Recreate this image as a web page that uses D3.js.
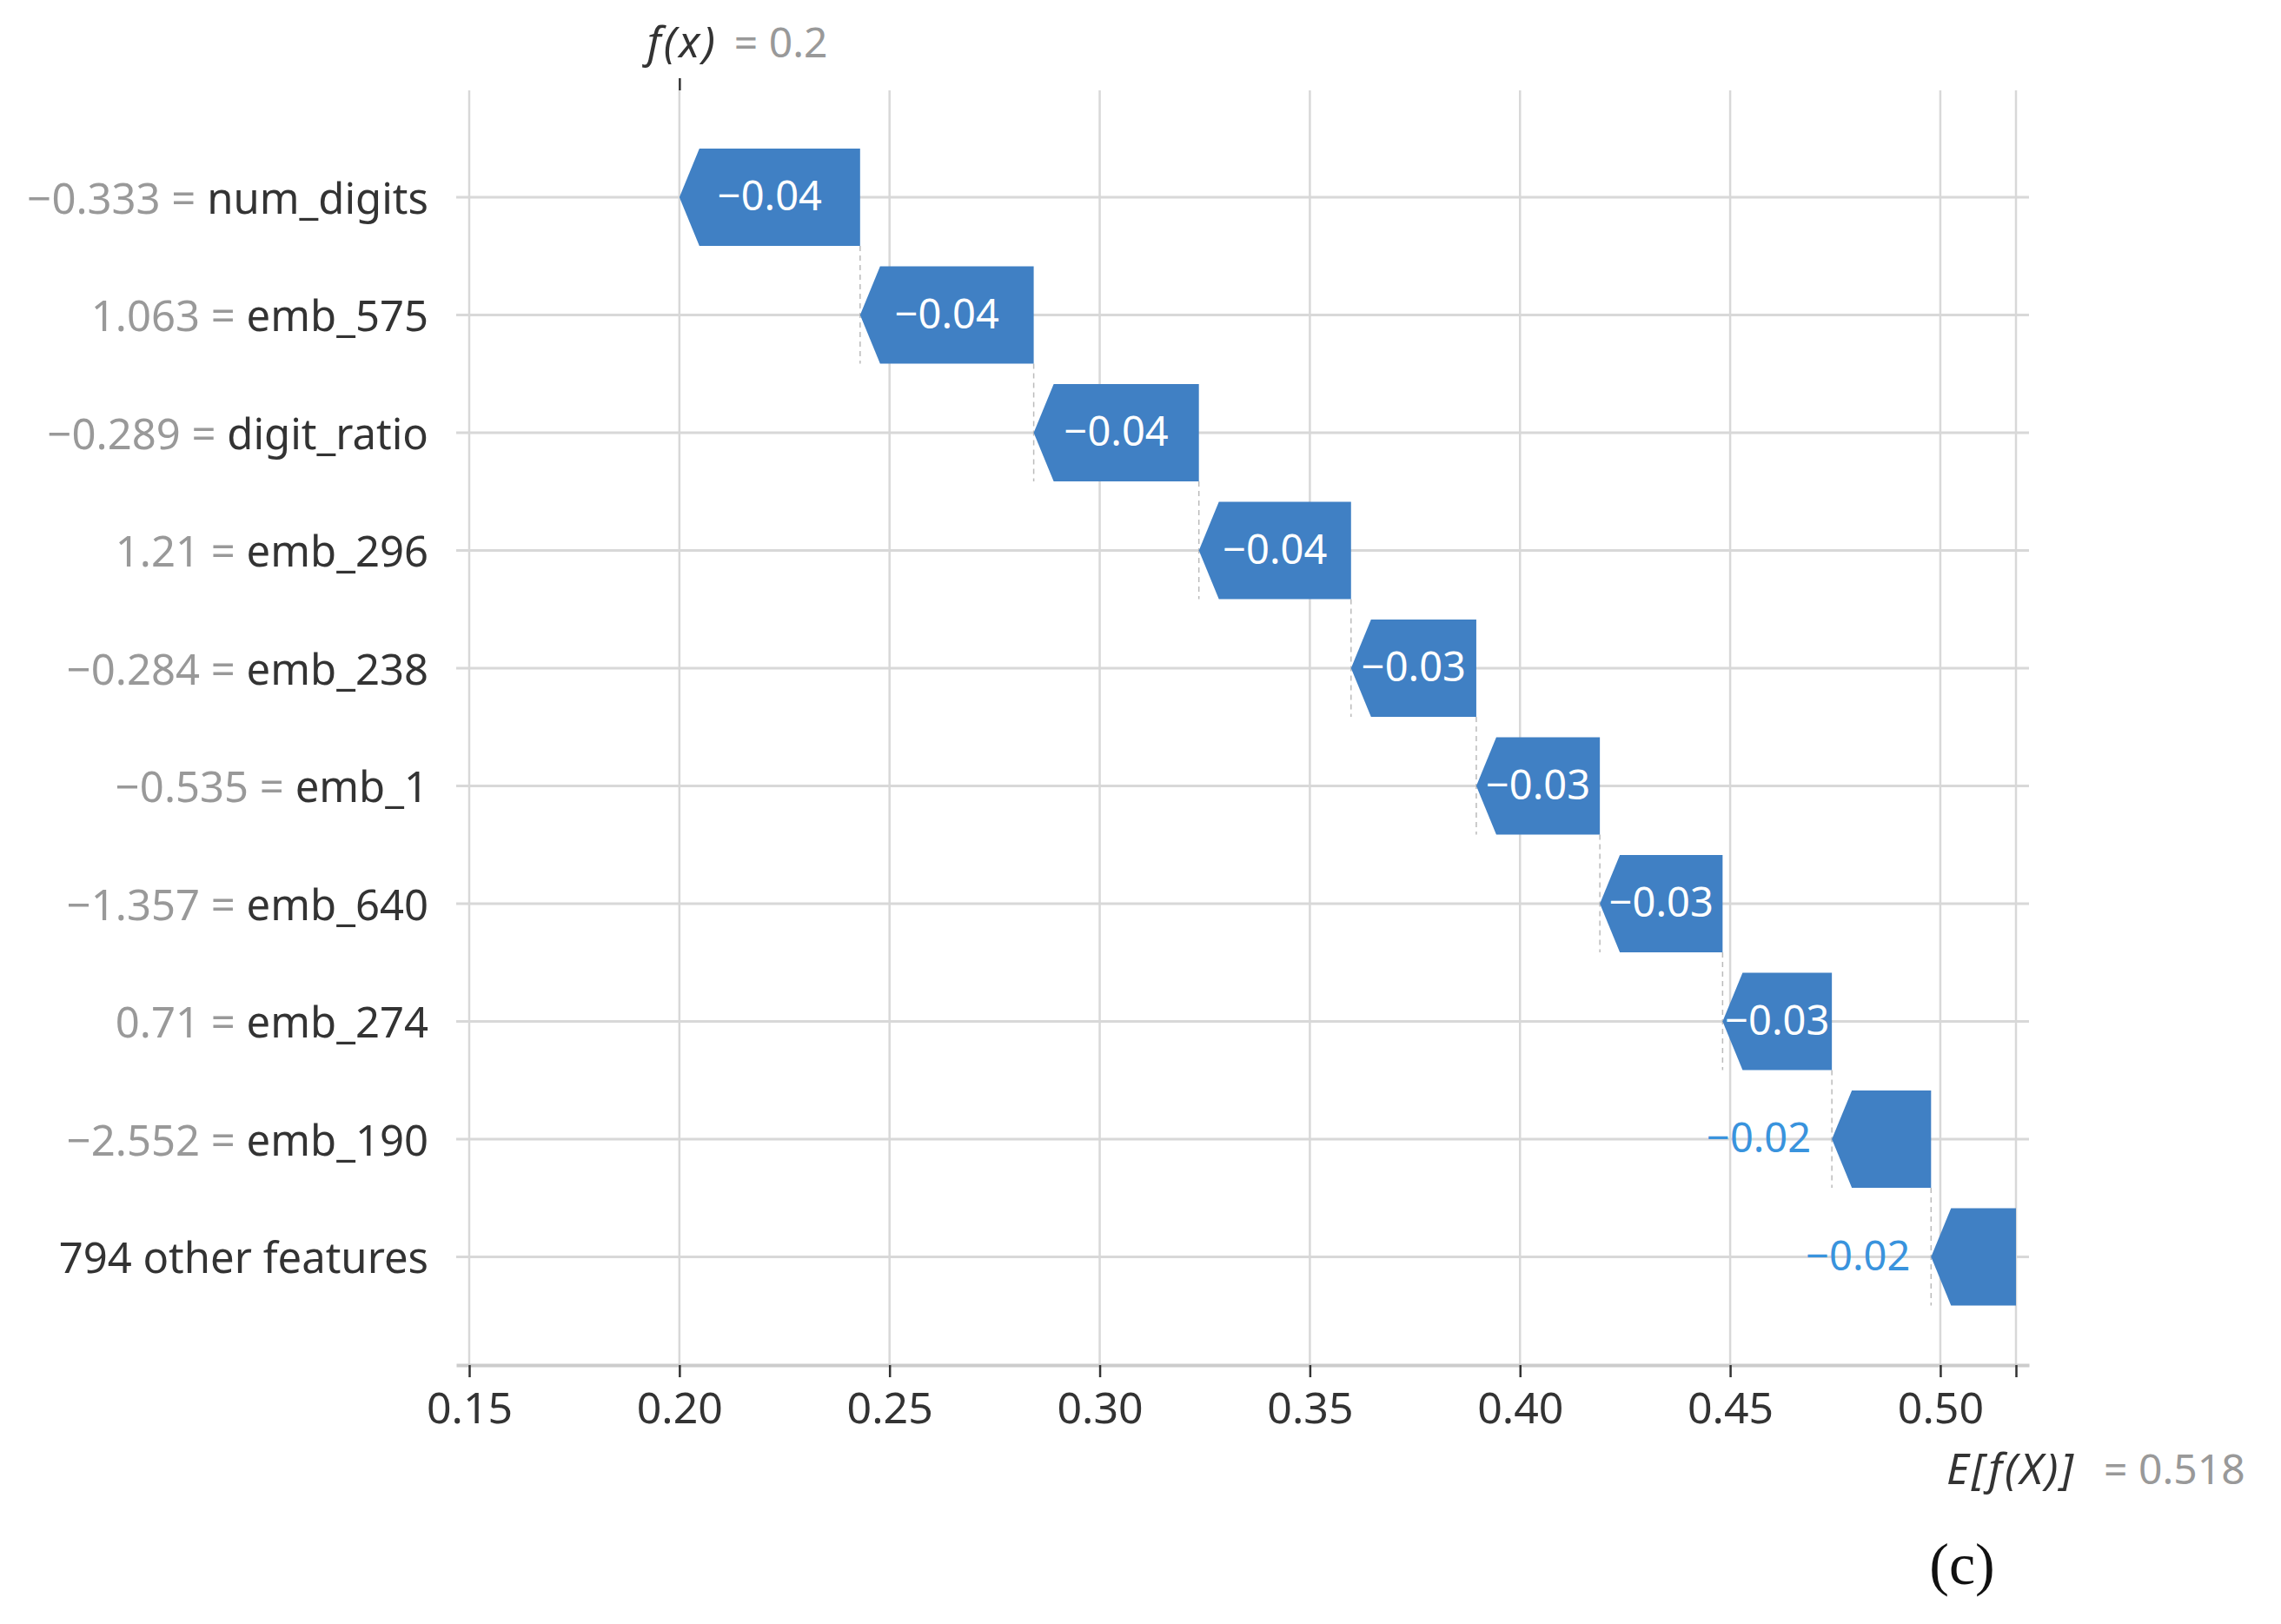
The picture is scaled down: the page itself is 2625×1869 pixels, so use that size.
<!DOCTYPE html>
<html>
<head>
<meta charset="utf-8">
<script src="https://cdn.jsdelivr.net/npm/d3@7"></script>
<style>
    body { margin: 0; background: #fff; }
    text { font-family: "Noto Sans", sans-serif; }
</style>
</head>
<body>
<div id="chart"></div>
<script>
// Feature rows, top to bottom
var features = ["num_digits", "emb_575", "digit_ratio", "emb_296", "emb_238",
    "emb_1", "emb_640", "emb_274", "emb_190", "794 other features"];
var featureValues = ["\u22120.333", "1.063", "\u22120.289", "1.21", "\u22120.284",
    "\u22120.535", "\u22121.357", "0.71", "\u22122.552", null];
// SHAP contributions
var shapValues = [-0.0430, -0.0413, -0.0393, -0.0362, -0.0298,
    -0.0294, -0.0292, -0.0260, -0.0236, -0.0202];
var baseValue = 0.518;   // E[f(X)]
var fxValue = 0.2;       // f(x)
var xTicks = [0.15, 0.20, 0.25, 0.30, 0.35, 0.40, 0.45, 0.50];

function init() {
    var w = 2625;
    var h = 1869;
    var plotTop = 104, plotBottom = 1571;
    var barH = 112, head = 23;

    var x = d3.scaleLinear().domain([0.1469, 0.5211]).range([525, 2335]);
    var y = d3.scaleLinear().domain([0, features.length - 1]).range([227, 1446.5]);

    var svg = d3.select("#chart")
        .append("svg")
        .attr("width", w)
        .attr("height", h)
        .style("background", "#fff");

    // build the waterfall, walking up from the base value
    var rows = [];
    var cur = baseValue;
    for (var i = features.length - 1; i >= 0; i--) {
        var next = cur + shapValues[i];
        rows[i] = {
            i: i,
            name: features[i],
            fval: featureValues[i],
            value: shapValues[i],
            lo: Math.min(cur, next),
            hi: Math.max(cur, next)
        };
        cur = next;
    }

    // vertical gridlines
    svg.append("g")
        .selectAll("line")
        .data(xTicks.concat([baseValue]))
        .enter()
        .append("line")
        .attr("x1", function (d) { return x(d); })
        .attr("x2", function (d) { return x(d); })
        .attr("y1", plotTop)
        .attr("y2", plotBottom)
        .style("stroke", "#d8d8d8")
        .style("stroke-width", 2.5);

    // horizontal gridlines
    svg.append("g")
        .selectAll("line")
        .data(rows)
        .enter()
        .append("line")
        .attr("x1", x.range()[0])
        .attr("x2", x.range()[1])
        .attr("y1", function (d) { return y(d.i); })
        .attr("y2", function (d) { return y(d.i); })
        .style("stroke", "#d8d8d8")
        .style("stroke-width", 3);

    // dashed connectors between bars
    svg.append("g")
        .selectAll("line")
        .data(rows.slice(1))
        .enter()
        .append("line")
        .attr("x1", function (d) { return x(d.lo); })
        .attr("x2", function (d) { return x(d.lo); })
        .attr("y1", function (d) { return y(d.i - 1) + barH / 2; })
        .attr("y2", function (d) { return y(d.i) + barH / 2; })
        .style("stroke", "#bbbbbb")
        .style("stroke-width", 1.5)
        .style("stroke-dasharray", "6,5");

    // bottom axis
    var axis = svg.append("g")
        .attr("transform", "translate(0," + plotBottom + ")")
        .call(d3.axisBottom(x)
            .tickValues(xTicks)
            .tickFormat(d3.format(".2f"))
            .tickSize(14)
            .tickSizeOuter(0)
            .tickPadding(17));
    axis.select(".domain").style("stroke", "#cccccc").style("stroke-width", 4);
    axis.selectAll(".tick line").style("stroke", "#333").style("stroke-width", 2.5);
    axis.selectAll(".tick text")
        .style("font-family", "Noto Sans, sans-serif")
        .style("font-size", "50px")
        .style("fill", "#333");

    // E[f(X)] tick
    var baseAxis = svg.append("g")
        .attr("transform", "translate(0," + plotBottom + ")")
        .call(d3.axisBottom(x).tickValues([baseValue]).tickFormat("").tickSize(14).tickSizeOuter(0));
    baseAxis.select(".domain").remove();
    baseAxis.selectAll(".tick line").style("stroke", "#333").style("stroke-width", 2.5);

    // f(x) tick on top
    var topAxis = svg.append("g")
        .attr("transform", "translate(0," + plotTop + ")")
        .call(d3.axisTop(x).tickValues([fxValue]).tickFormat("").tickSize(14).tickSizeOuter(0));
    topAxis.select(".domain").remove();
    topAxis.selectAll(".tick line").style("stroke", "#333").style("stroke-width", 2.5);

    // bars (arrow shapes)
    svg.append("g")
        .selectAll("polygon")
        .data(rows)
        .enter()
        .append("polygon")
        .attr("points", function (d) {
            var x0 = x(d.lo), x1 = x(d.hi), cy = y(d.i);
            var t = cy - barH / 2, b = cy + barH / 2;
            var hl = Math.min(head, x1 - x0);
            if (d.value < 0) {
                return [[x1, t], [x0 + hl, t], [x0, cy], [x0 + hl, b], [x1, b]].join(" ");
            }
            return [[x0, t], [x1 - hl, t], [x1, cy], [x1 - hl, b], [x0, b]].join(" ");
        })
        .style("fill", "#4080c4");

    // bar labels: inside if they fit, else left of the arrow tip
    var fmt = d3.format(".2f");
    svg.append("g")
        .selectAll("text")
        .data(rows)
        .enter()
        .append("text")
        .attr("y", function (d) { return y(d.i); })
        .attr("dy", "0.32em")
        .style("font-size", "47px")
        .text(function (d) { return fmt(d.value); })
        .each(function (d) {
            var tw = this.getComputedTextLength();
            var bw = x(d.hi) - x(d.lo);
            var el = d3.select(this);
            if (tw < bw - 4) {
                el.attr("x", (x(d.lo) + x(d.hi)) / 2)
                    .attr("text-anchor", "middle")
                    .style("fill", "#fff");
            } else {
                el.attr("x", x(d.lo) - 24)
                    .attr("text-anchor", "end")
                    .style("fill", "#3993dd");
            }
        });

    // feature labels
    var labels = svg.append("g")
        .selectAll("text")
        .data(rows)
        .enter()
        .append("text")
        .attr("x", 493)
        .attr("y", function (d) { return y(d.i); })
        .attr("dy", "0.38em")
        .attr("text-anchor", "end")
        .style("font-size", "49px");
    labels.filter(function (d) { return d.fval !== null; })
        .append("tspan")
        .style("fill", "#999")
        .text(function (d) { return d.fval + " = "; });
    labels.append("tspan")
        .style("fill", "#333")
        .text(function (d) { return d.name; });

    // f(x) label
    svg.append("text")
        .attr("x", x(fxValue) - 37)
        .attr("y", 66)
        .style("font-size", "50px")
        .style("font-style", "italic")
        .style("letter-spacing", "3px")
        .style("fill", "#333")
        .text("f(x)");
    svg.append("text")
        .attr("x", x(fxValue) + 63)
        .attr("y", 66)
        .style("font-size", "48px")
        .style("fill", "#999")
        .text("= " + fxValue);

    // E[f(X)] label
    svg.append("text")
        .attr("x", x(baseValue) - 80)
        .attr("y", 1708)
        .style("font-size", "50px")
        .style("font-style", "italic")
        .style("letter-spacing", "3px")
        .style("fill", "#333")
        .text("E[f(X)]");
    svg.append("text")
        .attr("x", x(baseValue) + 101)
        .attr("y", 1708)
        .style("font-size", "48px")
        .style("fill", "#999")
        .text("= " + d3.format(".3f")(baseValue));

    // panel letter
    svg.append("text")
        .attr("x", 2258)
        .attr("y", 1823)
        .attr("text-anchor", "middle")
        .style("font-family", "Liberation Serif, serif")
        .style("font-size", "68px")
        .style("fill", "#111")
        .text("(c)");
}

window.onload = init;
</script>
</body>
</html>
